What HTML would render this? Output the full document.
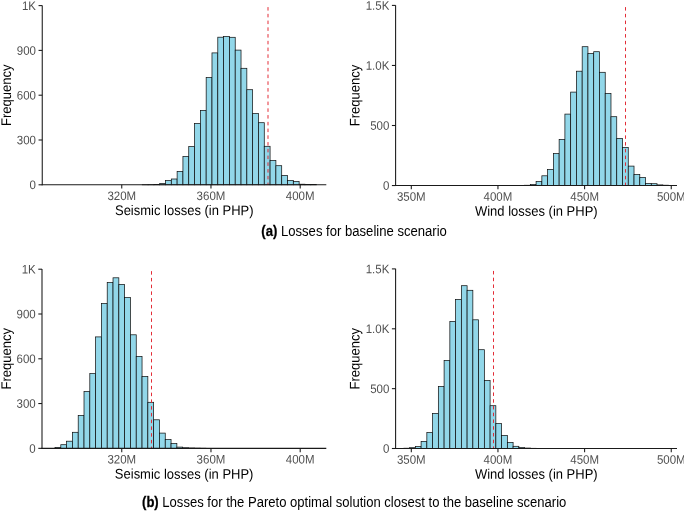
<!DOCTYPE html>
<html><head><meta charset="utf-8"><title>Loss histograms</title>
<style>html,body{margin:0;padding:0;background:#fff;}svg{display:block;will-change:transform;}text{font-family:"Liberation Sans",sans-serif;}</style>
</head><body>
<svg width="685" height="512" viewBox="0 0 685 512">
<rect width="685" height="512" fill="#ffffff"/>
<g id="panel1">
<g fill="#92d7e9" stroke="#0d0d0d" stroke-width="0.72" stroke-linejoin="miter">
<rect x="142.26" y="184.75" width="5.810" height="0.05"/>
<rect x="148.07" y="184.65" width="5.810" height="0.15"/>
<rect x="153.88" y="184.45" width="5.810" height="0.35"/>
<rect x="159.69" y="183.50" width="5.810" height="1.30"/>
<rect x="165.50" y="180.60" width="5.810" height="4.20"/>
<rect x="171.31" y="179.00" width="5.810" height="5.80"/>
<rect x="177.12" y="171.40" width="5.810" height="13.40"/>
<rect x="182.93" y="156.40" width="5.810" height="28.40"/>
<rect x="188.74" y="146.60" width="5.810" height="38.20"/>
<rect x="194.55" y="123.40" width="5.810" height="61.40"/>
<rect x="200.36" y="110.40" width="5.810" height="74.40"/>
<rect x="206.17" y="77.60" width="5.810" height="107.20"/>
<rect x="211.98" y="52.90" width="5.810" height="131.90"/>
<rect x="217.79" y="37.20" width="5.810" height="147.60"/>
<rect x="223.60" y="36.50" width="5.810" height="148.30"/>
<rect x="229.41" y="37.30" width="5.810" height="147.50"/>
<rect x="235.22" y="50.10" width="5.810" height="134.70"/>
<rect x="241.03" y="68.30" width="5.810" height="116.50"/>
<rect x="246.84" y="89.70" width="5.810" height="95.10"/>
<rect x="252.65" y="113.60" width="5.810" height="71.20"/>
<rect x="258.46" y="122.70" width="5.810" height="62.10"/>
<rect x="264.27" y="146.30" width="5.810" height="38.50"/>
<rect x="270.08" y="160.40" width="5.810" height="24.40"/>
<rect x="275.89" y="165.70" width="5.810" height="19.10"/>
<rect x="281.70" y="175.40" width="5.810" height="9.40"/>
<rect x="287.51" y="180.50" width="5.810" height="4.30"/>
<rect x="293.32" y="181.50" width="5.810" height="3.30"/>
<rect x="299.13" y="184.20" width="5.810" height="0.60"/>
<rect x="304.94" y="184.45" width="5.810" height="0.35"/>
<rect x="310.75" y="184.60" width="5.810" height="0.20"/>
</g>
<line x1="268.00" y1="7.10" x2="268.00" y2="184.80" stroke="#e2222c" stroke-width="0.95" stroke-dasharray="3.5 3.25"/>
<g stroke="#1a1a1a" stroke-width="1.07" fill="none">
<line x1="42.25" y1="5.50" x2="42.25" y2="185.34"/>
<line x1="41.72" y1="184.80" x2="326.30" y2="184.80"/>
<line x1="38.55" y1="5.60" x2="42.25" y2="5.60"/>
<line x1="38.55" y1="50.40" x2="42.25" y2="50.40"/>
<line x1="38.55" y1="95.20" x2="42.25" y2="95.20"/>
<line x1="38.55" y1="140.00" x2="42.25" y2="140.00"/>
<line x1="38.55" y1="184.80" x2="42.25" y2="184.80"/>
<line x1="121.75" y1="184.80" x2="121.75" y2="188.60"/>
<line x1="210.97" y1="184.80" x2="210.97" y2="188.60"/>
<line x1="300.20" y1="184.80" x2="300.20" y2="188.60"/>
</g>
<g font-size="11.5" fill="#505050">
<text transform="translate(36.00,9.90) rotate(0.03) scale(1.0,1.075)" text-anchor="end">1K</text>
<text transform="translate(36.00,54.70) rotate(0.03) scale(1.0,1.075)" text-anchor="end">900</text>
<text transform="translate(36.00,99.50) rotate(0.03) scale(1.0,1.075)" text-anchor="end">600</text>
<text transform="translate(36.00,144.30) rotate(0.03) scale(1.0,1.075)" text-anchor="end">300</text>
<text transform="translate(36.00,189.10) rotate(0.03) scale(1.0,1.075)" text-anchor="end">0</text>
<text transform="translate(121.75,200.00) rotate(0.03) scale(1.0,1.075)" text-anchor="middle">320M</text>
<text transform="translate(210.97,200.00) rotate(0.03) scale(1.0,1.075)" text-anchor="middle">360M</text>
<text transform="translate(300.20,200.00) rotate(0.03) scale(1.0,1.075)" text-anchor="middle">400M</text>
</g>
<text transform="translate(184.28,215.10) rotate(0.03) scale(1,1.075)" text-anchor="middle" font-size="13.0" fill="#000">Seismic losses (in PHP)</text>
<text transform="translate(10.90,95.20) rotate(-89.97) scale(1,1.075)" text-anchor="middle" font-size="13.0" fill="#000">Frequency</text>
</g>
<g id="panel2">
<g fill="#92d7e9" stroke="#0d0d0d" stroke-width="0.72" stroke-linejoin="miter">
<rect x="524.58" y="185.25" width="5.760" height="0.30"/>
<rect x="530.34" y="184.50" width="5.760" height="1.05"/>
<rect x="536.10" y="181.60" width="5.760" height="3.95"/>
<rect x="541.86" y="175.80" width="5.760" height="9.75"/>
<rect x="547.62" y="169.50" width="5.760" height="16.05"/>
<rect x="553.38" y="153.60" width="5.760" height="31.95"/>
<rect x="559.14" y="139.40" width="5.760" height="46.15"/>
<rect x="564.90" y="114.10" width="5.760" height="71.45"/>
<rect x="570.66" y="92.10" width="5.760" height="93.45"/>
<rect x="576.42" y="71.20" width="5.760" height="114.35"/>
<rect x="582.18" y="46.70" width="5.760" height="138.85"/>
<rect x="587.94" y="53.50" width="5.760" height="132.05"/>
<rect x="593.70" y="51.70" width="5.760" height="133.85"/>
<rect x="599.46" y="72.30" width="5.760" height="113.25"/>
<rect x="605.22" y="93.40" width="5.760" height="92.15"/>
<rect x="610.98" y="116.70" width="5.760" height="68.85"/>
<rect x="616.74" y="138.40" width="5.760" height="47.15"/>
<rect x="622.50" y="147.40" width="5.760" height="38.15"/>
<rect x="628.26" y="166.10" width="5.760" height="19.45"/>
<rect x="634.02" y="174.50" width="5.760" height="11.05"/>
<rect x="639.78" y="177.40" width="5.760" height="8.15"/>
<rect x="645.54" y="183.40" width="5.760" height="2.15"/>
<rect x="651.30" y="183.70" width="5.760" height="1.85"/>
<rect x="657.06" y="184.90" width="5.760" height="0.65"/>
<rect x="662.82" y="185.20" width="5.760" height="0.35"/>
<rect x="668.58" y="185.40" width="5.760" height="0.15"/>
</g>
<line x1="625.50" y1="7.10" x2="625.50" y2="185.55" stroke="#e2222c" stroke-width="0.95" stroke-dasharray="3.5 3.25"/>
<g stroke="#1a1a1a" stroke-width="1.07" fill="none">
<line x1="395.60" y1="5.30" x2="395.60" y2="186.09"/>
<line x1="395.06" y1="185.55" x2="677.00" y2="185.55"/>
<line x1="391.90" y1="5.40" x2="395.60" y2="5.40"/>
<line x1="391.90" y1="65.45" x2="395.60" y2="65.45"/>
<line x1="391.90" y1="125.50" x2="395.60" y2="125.50"/>
<line x1="391.90" y1="185.55" x2="395.60" y2="185.55"/>
<line x1="411.30" y1="185.55" x2="411.30" y2="189.35"/>
<line x1="497.95" y1="185.55" x2="497.95" y2="189.35"/>
<line x1="584.60" y1="185.55" x2="584.60" y2="189.35"/>
<line x1="671.25" y1="185.55" x2="671.25" y2="189.35"/>
</g>
<g font-size="11.5" fill="#505050">
<text transform="translate(389.35,9.70) rotate(0.03) scale(1.0,1.075)" text-anchor="end">1.5K</text>
<text transform="translate(389.35,69.75) rotate(0.03) scale(1.0,1.075)" text-anchor="end">1.0K</text>
<text transform="translate(389.35,129.80) rotate(0.03) scale(1.0,1.075)" text-anchor="end">500</text>
<text transform="translate(389.35,189.85) rotate(0.03) scale(1.0,1.075)" text-anchor="end">0</text>
<text transform="translate(411.30,200.75) rotate(0.03) scale(1.0,1.075)" text-anchor="middle">350M</text>
<text transform="translate(497.95,200.75) rotate(0.03) scale(1.0,1.075)" text-anchor="middle">400M</text>
<text transform="translate(584.60,200.75) rotate(0.03) scale(1.0,1.075)" text-anchor="middle">450M</text>
<text transform="translate(671.25,200.75) rotate(0.03) scale(1.0,1.075)" text-anchor="middle">500M</text>
</g>
<text transform="translate(536.30,215.85) rotate(0.03) scale(1,1.075)" text-anchor="middle" font-size="13.0" fill="#000">Wind losses (in PHP)</text>
<text transform="translate(359.40,95.48) rotate(-89.97) scale(1,1.075)" text-anchor="middle" font-size="13.0" fill="#000">Frequency</text>
</g>
<g id="panel3">
<g fill="#92d7e9" stroke="#0d0d0d" stroke-width="0.72" stroke-linejoin="miter">
<rect x="55.00" y="447.45" width="5.803" height="0.90"/>
<rect x="60.80" y="444.70" width="5.803" height="3.65"/>
<rect x="66.60" y="441.20" width="5.803" height="7.15"/>
<rect x="72.41" y="432.30" width="5.803" height="16.05"/>
<rect x="78.21" y="415.50" width="5.803" height="32.85"/>
<rect x="84.01" y="391.50" width="5.803" height="56.85"/>
<rect x="89.81" y="373.60" width="5.803" height="74.75"/>
<rect x="95.62" y="336.90" width="5.803" height="111.45"/>
<rect x="101.42" y="303.60" width="5.803" height="144.75"/>
<rect x="107.22" y="282.60" width="5.803" height="165.75"/>
<rect x="113.03" y="277.80" width="5.803" height="170.55"/>
<rect x="118.83" y="284.40" width="5.803" height="163.95"/>
<rect x="124.63" y="297.60" width="5.803" height="150.75"/>
<rect x="130.44" y="334.80" width="5.803" height="113.55"/>
<rect x="136.24" y="356.40" width="5.803" height="91.95"/>
<rect x="142.04" y="376.50" width="5.803" height="71.85"/>
<rect x="147.84" y="402.30" width="5.803" height="46.05"/>
<rect x="153.65" y="419.80" width="5.803" height="28.55"/>
<rect x="159.45" y="433.10" width="5.803" height="15.25"/>
<rect x="165.25" y="439.60" width="5.803" height="8.75"/>
<rect x="171.06" y="443.60" width="5.803" height="4.75"/>
<rect x="176.86" y="447.10" width="5.803" height="1.25"/>
<rect x="182.66" y="447.75" width="5.803" height="0.60"/>
<rect x="188.47" y="448.00" width="5.803" height="0.35"/>
<rect x="194.27" y="448.15" width="5.803" height="0.20"/>
<rect x="200.07" y="448.25" width="5.803" height="0.10"/>
</g>
<line x1="151.50" y1="271.15" x2="151.50" y2="448.35" stroke="#e2222c" stroke-width="0.95" stroke-dasharray="3.5 3.25"/>
<g stroke="#1a1a1a" stroke-width="1.07" fill="none">
<line x1="42.00" y1="269.10" x2="42.00" y2="448.89"/>
<line x1="41.47" y1="448.35" x2="326.30" y2="448.35"/>
<line x1="38.30" y1="269.20" x2="42.00" y2="269.20"/>
<line x1="38.30" y1="314.00" x2="42.00" y2="314.00"/>
<line x1="38.30" y1="358.80" x2="42.00" y2="358.80"/>
<line x1="38.30" y1="403.55" x2="42.00" y2="403.55"/>
<line x1="38.30" y1="448.35" x2="42.00" y2="448.35"/>
<line x1="121.75" y1="448.35" x2="121.75" y2="452.15"/>
<line x1="210.97" y1="448.35" x2="210.97" y2="452.15"/>
<line x1="300.20" y1="448.35" x2="300.20" y2="452.15"/>
</g>
<g font-size="11.5" fill="#505050">
<text transform="translate(35.75,273.50) rotate(0.03) scale(1.0,1.075)" text-anchor="end">1K</text>
<text transform="translate(35.75,318.30) rotate(0.03) scale(1.0,1.075)" text-anchor="end">900</text>
<text transform="translate(35.75,363.10) rotate(0.03) scale(1.0,1.075)" text-anchor="end">600</text>
<text transform="translate(35.75,407.85) rotate(0.03) scale(1.0,1.075)" text-anchor="end">300</text>
<text transform="translate(35.75,452.65) rotate(0.03) scale(1.0,1.075)" text-anchor="end">0</text>
<text transform="translate(121.75,463.55) rotate(0.03) scale(1.0,1.075)" text-anchor="middle">320M</text>
<text transform="translate(210.97,463.55) rotate(0.03) scale(1.0,1.075)" text-anchor="middle">360M</text>
<text transform="translate(300.20,463.55) rotate(0.03) scale(1.0,1.075)" text-anchor="middle">400M</text>
</g>
<text transform="translate(184.15,478.65) rotate(0.03) scale(1,1.075)" text-anchor="middle" font-size="13.0" fill="#000">Seismic losses (in PHP)</text>
<text transform="translate(10.90,358.77) rotate(-89.97) scale(1,1.075)" text-anchor="middle" font-size="13.0" fill="#000">Frequency</text>
</g>
<g id="panel4">
<g fill="#92d7e9" stroke="#0d0d0d" stroke-width="0.72" stroke-linejoin="miter">
<rect x="403.85" y="448.20" width="5.750" height="0.30"/>
<rect x="409.60" y="447.70" width="5.750" height="0.80"/>
<rect x="415.35" y="446.60" width="5.750" height="1.90"/>
<rect x="421.10" y="441.40" width="5.750" height="7.10"/>
<rect x="426.85" y="432.60" width="5.750" height="15.90"/>
<rect x="432.60" y="413.40" width="5.750" height="35.10"/>
<rect x="438.35" y="386.50" width="5.750" height="62.00"/>
<rect x="444.10" y="360.50" width="5.750" height="88.00"/>
<rect x="449.85" y="321.50" width="5.750" height="127.00"/>
<rect x="455.60" y="299.50" width="5.750" height="149.00"/>
<rect x="461.35" y="285.70" width="5.750" height="162.80"/>
<rect x="467.10" y="290.30" width="5.750" height="158.20"/>
<rect x="472.85" y="319.80" width="5.750" height="128.70"/>
<rect x="478.60" y="349.70" width="5.750" height="98.80"/>
<rect x="484.35" y="380.50" width="5.750" height="68.00"/>
<rect x="490.10" y="405.70" width="5.750" height="42.80"/>
<rect x="495.85" y="423.60" width="5.750" height="24.90"/>
<rect x="501.60" y="435.40" width="5.750" height="13.10"/>
<rect x="507.35" y="442.50" width="5.750" height="6.00"/>
<rect x="513.10" y="446.30" width="5.750" height="2.20"/>
<rect x="518.85" y="447.60" width="5.750" height="0.90"/>
<rect x="524.60" y="448.05" width="5.750" height="0.45"/>
<rect x="530.35" y="448.30" width="5.750" height="0.20"/>
</g>
<line x1="493.50" y1="270.95" x2="493.50" y2="448.50" stroke="#e2222c" stroke-width="0.95" stroke-dasharray="3.5 3.25"/>
<g stroke="#1a1a1a" stroke-width="1.07" fill="none">
<line x1="395.60" y1="268.80" x2="395.60" y2="449.04"/>
<line x1="395.06" y1="448.50" x2="677.00" y2="448.50"/>
<line x1="391.90" y1="268.90" x2="395.60" y2="268.90"/>
<line x1="391.90" y1="328.80" x2="395.60" y2="328.80"/>
<line x1="391.90" y1="388.65" x2="395.60" y2="388.65"/>
<line x1="391.90" y1="448.50" x2="395.60" y2="448.50"/>
<line x1="411.30" y1="448.50" x2="411.30" y2="452.30"/>
<line x1="497.95" y1="448.50" x2="497.95" y2="452.30"/>
<line x1="584.60" y1="448.50" x2="584.60" y2="452.30"/>
<line x1="671.25" y1="448.50" x2="671.25" y2="452.30"/>
</g>
<g font-size="11.5" fill="#505050">
<text transform="translate(389.35,273.20) rotate(0.03) scale(1.0,1.075)" text-anchor="end">1.5K</text>
<text transform="translate(389.35,333.10) rotate(0.03) scale(1.0,1.075)" text-anchor="end">1.0K</text>
<text transform="translate(389.35,392.95) rotate(0.03) scale(1.0,1.075)" text-anchor="end">500</text>
<text transform="translate(389.35,452.80) rotate(0.03) scale(1.0,1.075)" text-anchor="end">0</text>
<text transform="translate(411.30,463.70) rotate(0.03) scale(1.0,1.075)" text-anchor="middle">350M</text>
<text transform="translate(497.95,463.70) rotate(0.03) scale(1.0,1.075)" text-anchor="middle">400M</text>
<text transform="translate(584.60,463.70) rotate(0.03) scale(1.0,1.075)" text-anchor="middle">450M</text>
<text transform="translate(671.25,463.70) rotate(0.03) scale(1.0,1.075)" text-anchor="middle">500M</text>
</g>
<text transform="translate(536.30,478.80) rotate(0.03) scale(1,1.075)" text-anchor="middle" font-size="13.0" fill="#000">Wind losses (in PHP)</text>
<text transform="translate(359.40,358.70) rotate(-89.97) scale(1,1.075)" text-anchor="middle" font-size="13.0" fill="#000">Frequency</text>
</g>
<text transform="translate(354.1,236.0) rotate(0.02) scale(1,1.075)" text-anchor="middle" font-size="13.1" fill="#000"><tspan font-weight="bold" stroke="#000" stroke-width="0.25">(a)</tspan> Losses for baseline scenario</text>
<text transform="translate(354.2,507.3) rotate(0.02) scale(1,1.075)" text-anchor="middle" font-size="13.07" fill="#000"><tspan font-weight="bold" stroke="#000" stroke-width="0.25">(b)</tspan> Losses for the Pareto optimal solution closest to the baseline scenario</text>
<rect x="684" y="0" width="1" height="512" fill="#ffffff"/>
</svg>
</body></html>
